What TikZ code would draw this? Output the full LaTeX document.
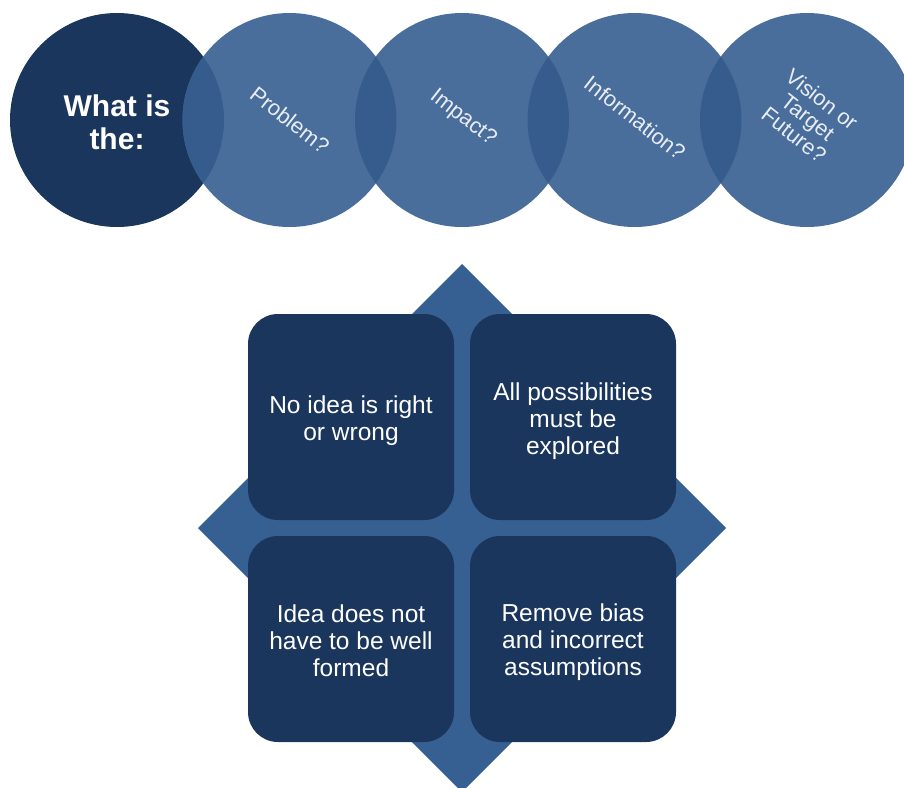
\documentclass[tikz,border=0pt]{standalone}
\usepackage{fontspec}
\setmainfont{Liberation Sans}
\definecolor{darkblue}{RGB}{26,54,93}
\definecolor{lightblue}{RGB}{74,110,156}
\definecolor{ovlblue}{RGB}{54,92,142}
\definecolor{diablue}{RGB}{54,96,146}
\definecolor{boxblue}{RGB}{27,54,93}
\definecolor{softwhite}{RGB}{232,237,243}
\tikzset{
  circtext/.style={text=softwhite, rotate=-38, align=center, inner sep=0pt,
    font=\fontsize{21.8}{22.5}\selectfont},
  boxnode/.style={fill=boxblue, rounded corners=30pt, minimum width=206pt,
    minimum height=206pt, inner sep=0pt},
  boxtext/.style={text=white, align=center, inner sep=0pt,
    font=\fontsize{24.5}{27.2}\selectfont},
}
\begin{document}
\begin{tikzpicture}[x=1pt,y=-1pt]
\useasboundingbox (0,0) rectangle (904,787);
\clip (0,0) rectangle (904,787);
\fill[white] (0,0) rectangle (904,787);
% circle centres
\coordinate (c1) at (117,120);
\coordinate (c2) at (289.5,120);
\coordinate (c3) at (462,120);
\coordinate (c4) at (634.5,120);
\coordinate (c5) at (807,120);
\def\R{107}
\fill[darkblue] (c1) circle (\R);
\foreach \c in {c2,c3,c4,c5} \fill[lightblue] (\c) circle (\R);
% overlaps
\foreach \a/\b in {c1/c2,c2/c3,c3/c4,c4/c5}{
  \begin{scope}
    \clip (\a) circle (\R);
    \fill[ovlblue] (\b) circle (\R);
  \end{scope}
}
% texts in circles
\node[text=white, align=center, inner sep=0pt,
  font=\fontsize{30}{33}\bfseries] (t1) at (117,122) {What is\\the:};
\node[circtext] (t2) at (290,120) {Problem?};
\node[circtext] (t3) at (463,118) {Impact?};
\node[circtext] (t4) at (635,118) {Information?};
\node[circtext] (t5) at (808,117) {Vision or\\Target\\Future?};
% diamond
\fill[diablue] (462,264) -- (726,528) -- (462,792) -- (198,528) -- cycle;
% boxes
\node[boxnode] (b1) at (351,417) {};
\node[boxnode] (b2) at (573,417) {};
\node[boxnode] (b3) at (351,639) {};
\node[boxnode] (b4) at (573,639) {};
\node[boxtext] (l1) at ([yshift=-4pt]b1.center) {No idea is right\\or wrong};
\node[boxtext] (l2) at ([yshift=-4pt]b2.center) {All possibilities\\must be\\explored};
\node[boxtext] (l3) at ([yshift=-2pt]b3.center) {Idea does not\\have to be well\\formed};
\node[boxtext] (l4) at ([yshift=-3pt]b4.center) {Remove bias\\and incorrect\\assumptions};
\end{tikzpicture}
\end{document}
